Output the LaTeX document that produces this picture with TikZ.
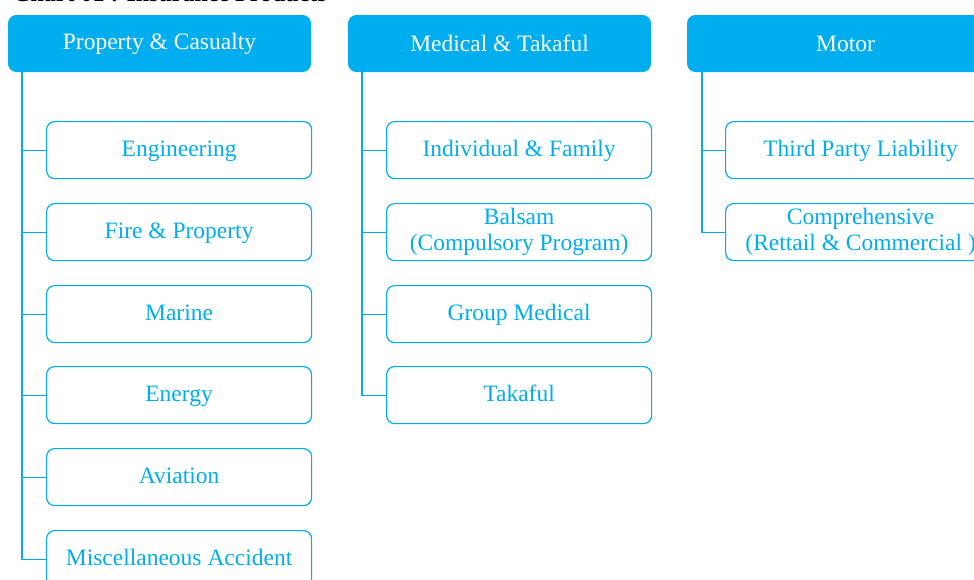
\documentclass[tikz,border=0pt]{standalone}
\usepackage{fontspec}
\setmainfont{Liberation Serif}
\definecolor{cy}{HTML}{00AEEF}
\begin{document}
\begin{tikzpicture}[x=1pt,y=-1pt,
  hdr/.style={draw=cy,fill=cy,text=white,rounded corners=8pt,line width=1pt,minimum width=302pt,minimum height=56pt,anchor=north west,inner sep=0pt,font=\fontsize{23.5}{26}\selectfont},
  sub/.style={draw=cy,fill=white,text=cy,rounded corners=8pt,line width=1.2pt,minimum width=265pt,minimum height=57pt,anchor=north west,inner sep=0pt,align=center,font=\fontsize{23.5}{26}\selectfont},
  one/.style={sub,text height=15pt,text depth=3pt},
  conn/.style={draw=cy,line width=1.2pt}]
\clip (0,0) rectangle (974,579);
\fill[white] (0,0) rectangle (974,579);
\node[anchor=base west,inner sep=0pt,font=\bfseries\fontsize{24}{26}\selectfont] (title) at (13,1) {Chart 01 : Insurance Products};
% headers
\node[hdr] (h1) at (8,15) {Property \& Casualty};
\node[hdr] (h2) at (348,15) {Medical \& Takaful};
\node[hdr,minimum width=316pt] (h3) at (687,15) {Motor};
% property & casualty
\node[one] (a1) at (46,121) {Engineering};
\node[one] (a2) at (46,203) {Fire \& Property};
\node[one] (a3) at (46,285) {Marine};
\node[one] (a4) at (46,366) {Energy};
\node[one] (a5) at (46,448) {Aviation};
\node[one] (a6) at (46,530) {Miscellaneous Accident};
% medical
\node[one] (b1) at (386,121) {Individual \& Family};
\node[sub] (b2) at (386,203) {Balsam\\(Compulsory Program)};
\node[one] (b3) at (386,285) {Group Medical};
\node[one] (b4) at (386,366) {Takaful};
% motor
\node[one,minimum width=270pt] (m1) at (725,121) {Third Party Liability};
\node[sub,minimum width=270pt] (m2) at (725,203) {Comprehensive\\(Rettail \& Commercial )};
% connectors
\foreach \c in {a1,a2,a3,a4,a5,a6}
  \draw[conn] (h1.south west) ++(14,0) |- (\c.west);
\foreach \c in {b1,b2,b3,b4}
  \draw[conn] (h2.south west) ++(14,0) |- (\c.west);
\foreach \c in {m1,m2}
  \draw[conn] (h3.south west) ++(15,0) |- (\c.west);
\end{tikzpicture}
\end{document}
